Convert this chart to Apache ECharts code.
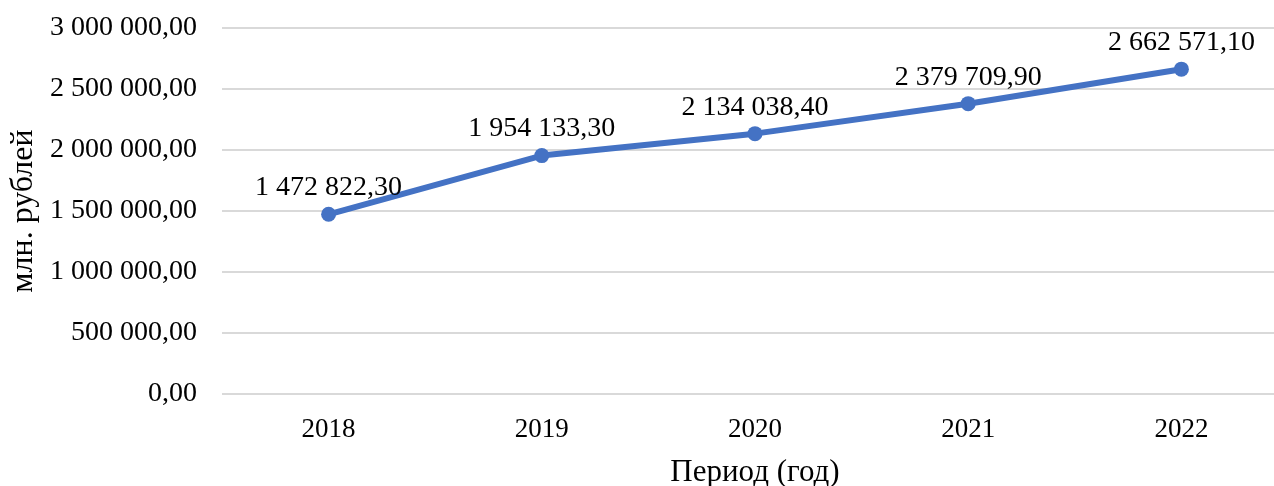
<!DOCTYPE html>
<html>
<head>
<meta charset="utf-8">
<script src="https://cdn.jsdelivr.net/npm/echarts@6/dist/echarts.min.js"></script>
<style>
html,body{margin:0;padding:0;background:#fff;overflow:hidden;width:1274px;height:486px;}
#wrap{width:1274px;height:486px;overflow:hidden;position:relative;}
#chart{width:1288px;height:486px;position:absolute;left:0;top:0;}
</style>
</head>
<body>
<div id="wrap"><div id="chart"></div></div>
<script>
const categories = ['2018', '2019', '2020', '2021', '2022'];
const values = [1472822.30, 1954133.30, 2134038.40, 2379709.90, 2662571.10];
const yAxisName = 'млн. рублей';
const xAxisName = 'Период (год)';

function fmt(v) {
  const parts = Number(v).toFixed(2).split('.');
  const intPart = parts[0].replace(/\B(?=(\d{3})+(?!\d))/g, ' ');
  return intPart + ',' + parts[1];
}

const FONT = '"Liberation Serif", "Times New Roman", serif';
const chart = echarts.init(document.getElementById('chart'));
chart.setOption({
  animation: false,
  backgroundColor: '#fff',
  textStyle: { fontFamily: FONT },
  grid: { left: 222, top: 28, height: 366, width: 1066, containLabel: false, outerBoundsMode: 'none' },
  xAxis: {
    type: 'category',
    data: categories,
    boundaryGap: true,
    axisLine: { show: false },
    axisTick: { show: false },
    axisLabel: { color: '#000', fontSize: 27, fontFamily: FONT, margin: 22 },
    name: xAxisName,
    nameLocation: 'middle',
    nameGap: 63,
    nameTextStyle: { color: '#000', fontSize: 31, fontFamily: FONT }
  },
  yAxis: {
    type: 'value',
    min: 0,
    max: 3000000,
    interval: 500000,
    axisLine: { show: false },
    axisTick: { show: false },
    splitLine: { lineStyle: { color: '#d9d9d9', width: 2 } },
    axisLabel: { color: '#000', fontSize: 28, fontFamily: FONT, margin: 25, formatter: fmt },
    name: yAxisName,
    nameLocation: 'middle',
    nameGap: 179,
    nameTextStyle: { color: '#000', fontSize: 32, fontFamily: FONT }
  },
  series: [{
    type: 'line',
    data: values,
    symbol: 'circle',
    symbolSize: 15,
    lineStyle: { color: '#4472C4', width: 6 },
    itemStyle: { color: '#4472C4' },
    label: {
      show: true,
      position: 'top',
      distance: 5,
      color: '#000',
      fontSize: 28,
      fontFamily: FONT,
      formatter: p => fmt(p.value)
    }
  }]
});
</script>
</body>
</html>
